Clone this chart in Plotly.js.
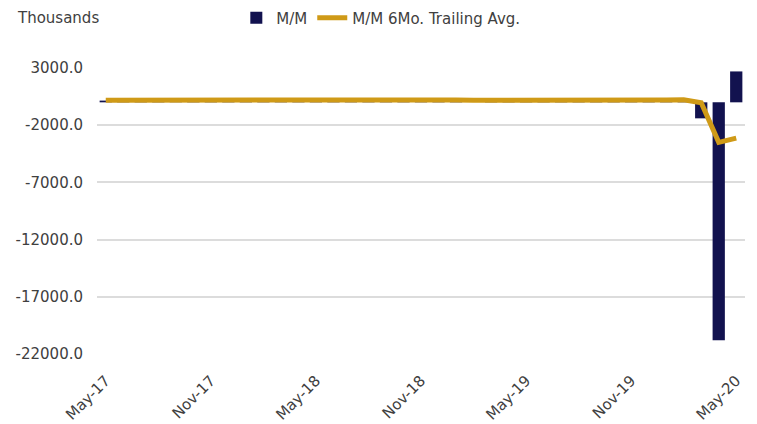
<!DOCTYPE html>
<html>
<head>
<meta charset="utf-8">
<script src="https://cdn.plot.ly/plotly-3.0.1.min.js"></script>
<style>html,body{margin:0;padding:0;background:#fff;}#chart{width:757px;height:424px;}</style>
</head>
<body>
<div id="chart"></div>
<script>
const months = ["May-17","Jun-17","Jul-17","Aug-17","Sep-17","Oct-17","Nov-17","Dec-17",
  "Jan-18","Feb-18","Mar-18","Apr-18","May-18","Jun-18","Jul-18","Aug-18","Sep-18","Oct-18","Nov-18","Dec-18",
  "Jan-19","Feb-19","Mar-19","Apr-19","May-19","Jun-19","Jul-19","Aug-19","Sep-19","Oct-19","Nov-19","Dec-19",
  "Jan-20","Feb-20","Mar-20","Apr-20","May-20"];
const mom = [150,230,190,200,20,260,220,170,
  170,330,180,200,260,230,180,280,110,260,190,230,
  260,1,150,220,80,190,190,210,200,185,260,185,
  215,250,-1400,-20800,2700];
const trailingAvg = [180,185,185,180,165,175,185,175,
  170,190,195,210,220,230,225,240,210,220,210,215,
  210,175,170,175,150,150,170,180,175,180,205,205,
  210,220,-45,-3500,-3130];
const tickLabels = ["May-17","Nov-17","May-18","Nov-18","May-19","Nov-19","May-20"];
const yTicks = [3000,-2000,-7000,-12000,-17000,-22000];

const font = "DejaVu Sans, sans-serif";
const txt = "#404040";
const data = [
  {type:"bar", name:"M/M", x:months, y:mom, marker:{color:"#12124f"}},
  {type:"scatter", mode:"lines", name:"M/M 6Mo. Trailing Avg.", x:months, y:trailingAvg,
   line:{color:"#cf9a17", width:5}}
];
const layout = {
  width:757, height:424,
  margin:{l:97, r:12, t:68, b:70, autoexpand:false},
  paper_bgcolor:"#fff", plot_bgcolor:"#fff",
  font:{family:font, size:15, color:txt},
  bargap:0.3,
  showlegend:true,
  legend:{orientation:"h", x:0.215, xanchor:"left", y:1.175, yanchor:"middle",
          font:{family:font, size:15, color:txt}},
  xaxis:{type:"category", tickmode:"array", tickvals:tickLabels, ticktext:tickLabels,
         tickangle:-45, showgrid:false, zeroline:false, showline:false, ticks:"",
         ticklabelstandoff:14, tickfont:{family:font, size:15, color:txt}},
  yaxis:{range:[-22000,3000], tickmode:"array", tickvals:yTicks,
         ticktext:yTicks.map(v=>v.toFixed(1)), showgrid:true, gridcolor:"#dcdcdc",
         gridwidth:2, zeroline:false, showline:false, ticks:"",
         ticklabelstandoff:13, tickfont:{family:font, size:15, color:txt}},
  annotations:[{text:"Thousands", xref:"paper", yref:"paper", x:-0.127, y:1.175,
     xanchor:"left", yanchor:"middle", showarrow:false, font:{family:font, size:15, color:txt}}]
};
Plotly.newPlot("chart", data, layout, {displayModeBar:false, staticPlot:true});
</script>
</body>
</html>
